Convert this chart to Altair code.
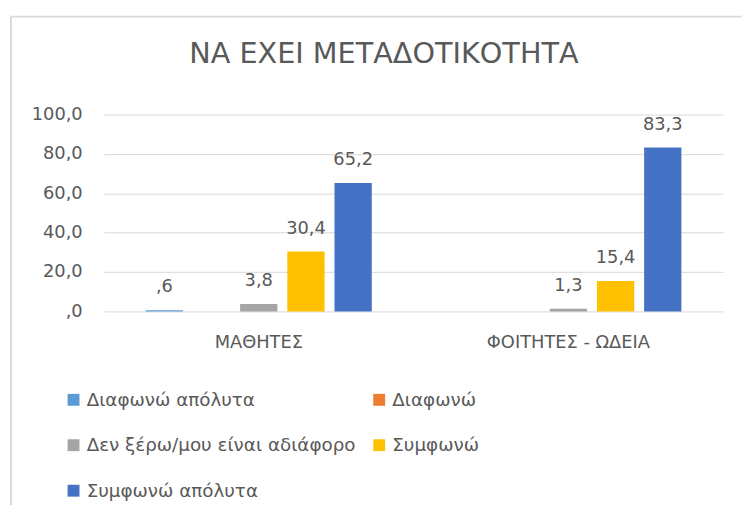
import altair as alt
import pandas as pd

categories = ["ΜΑΘΗΤΕΣ", "ΦΟΙΤΗΤΕΣ - ΩΔΕΙΑ"]
series = ["Διαφωνώ απόλυτα", "Διαφωνώ", "Δεν ξέρω/μου είναι αδιάφορο", "Συμφωνώ", "Συμφωνώ απόλυτα"]
colors = ["#5B9BD5", "#ED7D31", "#A5A5A5", "#FFC000", "#4472C4"]

v_diafono_apolyta = [0.6, None]
v_diafono = [None, None]
v_den_xero = [3.8, 1.3]
v_symfono = [30.4, 15.4]
v_symfono_apolyta = [65.2, 83.3]

y_ticks = [0, 20, 40, 60, 80, 100]

all_values = [v_diafono_apolyta, v_diafono, v_den_xero, v_symfono, v_symfono_apolyta]
rows = []
for s, vals in zip(series, all_values):
    for c, v in zip(categories, vals):
        if v is not None:
            rows.append({"cat": c, "series": s, "value": v})
df = pd.DataFrame(rows)

FONT = "DejaVu Sans"
TXT = "#595959"
GRID = "#D9D9D9"

x_enc = alt.X(
    "cat:N", sort=categories,
    scale=alt.Scale(paddingInner=0.238, paddingOuter=0.119),
    axis=alt.Axis(title=None, labelAngle=0, domain=False, ticks=False, labelFontSize=18,
                  labelColor=TXT, labelFont=FONT, labelPadding=37, labelBaseline="alphabetic"),
)
xoff_enc = alt.XOffset("series:N", sort=series,
                       scale=alt.Scale(domain=series, paddingInner=0.21, paddingOuter=0.105))
y_enc = alt.Y(
    "value:Q",
    scale=alt.Scale(domain=[0, 100], nice=False),
    axis=alt.Axis(title=None, values=y_ticks, domain=False, ticks=False, gridColor=GRID,
                  labelFontSize=18, labelColor=TXT, labelFont=FONT, labelPadding=22,
                  labelExpr="datum.value == 0 ? ',0' : replace(format(datum.value, '.1f'), '.', ',')"),
)
color_enc = alt.Color(
    "series:N", sort=series,
    scale=alt.Scale(domain=series, range=colors),
    legend=alt.Legend(title=None, orient="none", legendX=-40, legendY=279, columns=2,
                      direction="horizontal",
                      symbolType="square", symbolSize=144, symbolStrokeWidth=0,
                      labelFontSize=18.5, labelColor=TXT, labelFont=FONT, labelOffset=4,
                      labelLimit=400, rowPadding=27, columnPadding=14, padding=0),
)

base = alt.Chart(df)

bars = base.mark_bar().encode(x=x_enc, xOffset=xoff_enc, y=y_enc, color=color_enc)

labels = base.transform_calculate(
    label="datum.value < 1 ? replace(substring(format(datum.value, '.1f'), 1), '.', ',') : replace(format(datum.value, '.1f'), '.', ',')"
).mark_text(baseline="alphabetic", dy=-18, fontSize=18, font=FONT, color=TXT).encode(
    x=x_enc, xOffset=xoff_enc, y=y_enc, text="label:N"
)

# chart-area frame (decoration, as in the Excel chart border)
frame_left = alt.Chart(pd.DataFrame({"k": [0]})).mark_rule(color=GRID, strokeWidth=2).encode(
    x=alt.value(-94), y=alt.value(-99), y2=alt.value(420)
)
frame_top = alt.Chart(pd.DataFrame({"k": [0]})).mark_rule(color=GRID, strokeWidth=2).encode(
    x=alt.value(-94), x2=alt.value(660), y=alt.value(-99)
)

chart = alt.layer(frame_left, frame_top, bars, labels).properties(
    width=626, height=199,
    title=alt.TitleParams("ΝΑ ΕΧΕΙ ΜΕΤΑΔΟΤΙΚΟΤΗΤΑ", fontSize=29, font=FONT, color=TXT,
                          fontWeight="normal", anchor="middle", dx=-30, offset=-77,
                          baseline="alphabetic"),
    autosize=alt.AutoSizeParams(type="none"),
    padding={"left": 97, "top": 105, "right": 19, "bottom": 193},
).configure_view(stroke=None)

chart.save("out.html", embed_options={"renderer": "svg", "actions": False})
